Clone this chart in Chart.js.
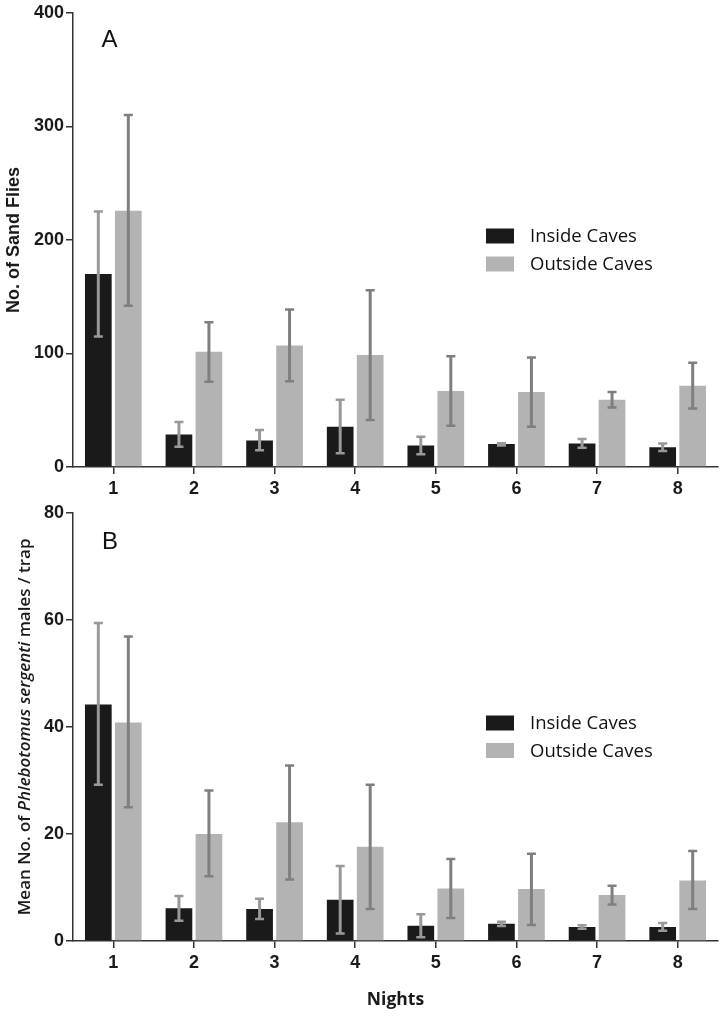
<!DOCTYPE html>
<html>
<head>
<meta charset="utf-8">
<script src="https://cdn.jsdelivr.net/npm/chart.js@4.4.1/dist/chart.umd.min.js"></script>
<style>
    body { margin: 0; background: #fff; }
    #graficoA { position: absolute; left: 0; top: 0; }
    #graficoB { position: absolute; left: 0; top: 500px; }
</style>
</head>
<body>
<canvas id="graficoA" width="723" height="500"></canvas>
<canvas id="graficoB" width="723" height="534"></canvas>
<script>
// Dados
const nights = ['1', '2', '3', '4', '5', '6', '7', '8'];
const seriesNames = ['Inside Caves', 'Outside Caves'];

// Painel A - No. of Sand Flies
const insideA = [170, 28.7, 23.4, 35.4, 19, 20.2, 20.8, 17.3];
const insideALow = [115, 17.8, 14.7, 12, 11.2, 19, 17, 14];
const insideAHigh = [225, 39.6, 32.5, 59.2, 26.6, 21, 24.6, 20.8];
const outsideA = [225.6, 101.4, 107, 98.7, 67, 66, 59.2, 71.5];
const outsideALow = [142, 75, 75.6, 41.3, 36.3, 35.4, 52.5, 51.6];
const outsideAHigh = [310, 127.5, 138.6, 155.6, 97.6, 96.4, 66, 91.7];

// Painel B - Mean No. of P. sergenti males / trap
const insideB = [44.2, 6.1, 6.0, 7.7, 2.85, 3.2, 2.6, 2.6];
const insideBLow = [29.2, 3.8, 4.1, 1.4, 0.7, 2.8, 2.3, 1.9];
const insideBHigh = [59.4, 8.4, 7.9, 14, 5, 3.6, 2.95, 3.35];
const outsideB = [40.8, 20, 22.2, 17.6, 9.8, 9.7, 8.6, 11.3];
const outsideBLow = [25, 12.1, 11.5, 6, 4.3, 3, 6.8, 6];
const outsideBHigh = [56.9, 28.1, 32.8, 29.2, 15.3, 16.3, 10.3, 16.8];

const corDentro = '#1a1a1a';
const corFora = '#b3b3b3';
const tickFont = { family: '"Liberation Sans", Arial, sans-serif', size: 18, weight: 'bold' };

// Barras de erro
const barrasErro = {
    id: 'barrasErro',
    afterDatasetsDraw(chart) {
        const ctx = chart.ctx;
        const y = chart.scales.y;
        chart.data.datasets.forEach((ds, i) => {
            const meta = chart.getDatasetMeta(i);
            meta.data.forEach((bar, j) => {
                const alto = y.getPixelForValue(ds.erroAlto[j]);
                const baixo = y.getPixelForValue(ds.erroBaixo[j]);
                ctx.save();
                ctx.strokeStyle = ds.corErro;
                ctx.lineWidth = 3;
                ctx.beginPath();
                ctx.moveTo(bar.x, alto);
                ctx.lineTo(bar.x, baixo);
                ctx.stroke();
                ctx.lineWidth = 2.5;
                ctx.beginPath();
                ctx.moveTo(bar.x - 4.5, alto);
                ctx.lineTo(bar.x + 4.5, alto);
                ctx.moveTo(bar.x - 4.5, baixo);
                ctx.lineTo(bar.x + 4.5, baixo);
                ctx.stroke();
                ctx.restore();
            });
        });
    }
};

// Legenda, letra do painel e titulo do eixo y
const extras = {
    id: 'extras',
    afterDraw(chart, args, opts) {
        const ctx = chart.ctx;
        const area = chart.chartArea;
        ctx.save();

        // letra do painel
        ctx.fillStyle = '#111';
        ctx.font = '24px "Liberation Sans", Arial, sans-serif';
        ctx.textAlign = 'center';
        ctx.textBaseline = 'middle';
        ctx.fillText(opts.letra, opts.letraX, opts.letraY);

        // legenda
        ctx.textAlign = 'left';
        ctx.font = '18.5px "Open Sans", sans-serif';
        chart.data.datasets.forEach((ds, i) => {
            const yc = opts.legY + i * opts.legGap;
            ctx.fillStyle = ds.backgroundColor;
            ctx.fillRect(opts.legX, yc - 7.5, 28, 15);
            ctx.fillStyle = '#111';
            ctx.fillText(ds.label, opts.legX + 44, yc + 1);
        });

        // titulo do eixo y
        ctx.translate(opts.tituloX, (area.top + area.bottom) / 2);
        ctx.rotate(-Math.PI / 2);
        let total = 0;
        opts.titulo.forEach(p => { ctx.font = p.font; total += ctx.measureText(p.text).width; });
        let x = -total / 2;
        ctx.fillStyle = '#1a1a1a';
        opts.titulo.forEach(p => {
            ctx.font = p.font;
            ctx.fillText(p.text, x, 0);
            x += ctx.measureText(p.text).width;
        });
        ctx.restore();
    }
};

function criaGrafico(id, dentro, dentroLow, dentroHigh, fora, foraLow, foraHigh, yMax, yStep, xHeight, extrasOpts, mostraNights) {
    const ctx = document.getElementById(id).getContext('2d');
    return new Chart(ctx, {
        type: 'bar',
        data: {
            labels: nights,
            datasets: [{
                label: seriesNames[0],
                data: dentro,
                backgroundColor: corDentro,
                erroBaixo: dentroLow,
                erroAlto: dentroHigh,
                corErro: '#999999'
            }, {
                label: seriesNames[1],
                data: fora,
                backgroundColor: corFora,
                erroBaixo: foraLow,
                erroAlto: foraHigh,
                corErro: '#7f7f7f'
            }]
        },
        options: {
            responsive: false,
            animation: false,
            categoryPercentage: 0.744,
            barPercentage: 0.89,
            layout: { padding: { top: 12, right: 5, left: 0, bottom: 0 } },
            plugins: {
                legend: { display: false },
                tooltip: { enabled: false },
                extras: extrasOpts
            },
            scales: {
                x: {
                    grid: { offset: false, drawOnChartArea: false, tickLength: 7, color: '#333', lineWidth: 1.5 },
                    border: { color: '#333', width: 1.5 },
                    ticks: { color: '#1a1a1a', font: tickFont, padding: 4 },
                    title: {
                        display: mostraNights,
                        text: 'Nights',
                        color: '#1a1a1a',
                        font: { family: '"Open Sans", sans-serif', size: 17.5, weight: 'bold' },
                        padding: { top: 0, bottom: 23 }
                    },
                    afterFit: s => { s.height = xHeight; }
                },
                y: {
                    min: 0,
                    max: yMax,
                    ticks: { stepSize: yStep, color: '#1a1a1a', font: tickFont, padding: 2 },
                    grid: { drawOnChartArea: false, tickLength: 7, color: '#333', lineWidth: 1.5 },
                    border: { color: '#333', width: 1.5 },
                    afterFit: s => { s.width = 73; }
                }
            }
        },
        plugins: [barrasErro, extras]
    });
}

criaGrafico('graficoA', insideA, insideALow, insideAHigh, outsideA, outsideALow, outsideAHigh, 400, 100, 33, {
    letra: 'A', letraX: 109.5, letraY: 40,
    legX: 486, legY: 236, legGap: 28,
    tituloX: 14,
    titulo: [{ text: 'No. of Sand Flies', font: 'bold 18px "Liberation Sans", Arial, sans-serif' }]
}, false);

criaGrafico('graficoB', insideB, insideBLow, insideBHigh, outsideB, outsideBLow, outsideBHigh, 80, 20, 93, {
    letra: 'B', letraX: 110, letraY: 42,
    legX: 486, legY: 223, legGap: 27.5,
    tituloX: 25,
    titulo: [
        { text: 'Mean No. of ', font: '600 17px "Open Sans", sans-serif' },
        { text: 'Phlebotomus sergenti', font: 'italic 600 17px "Open Sans", sans-serif' },
        { text: ' males / trap', font: '600 17px "Open Sans", sans-serif' }
    ]
}, true);
</script>
</body>
</html>
